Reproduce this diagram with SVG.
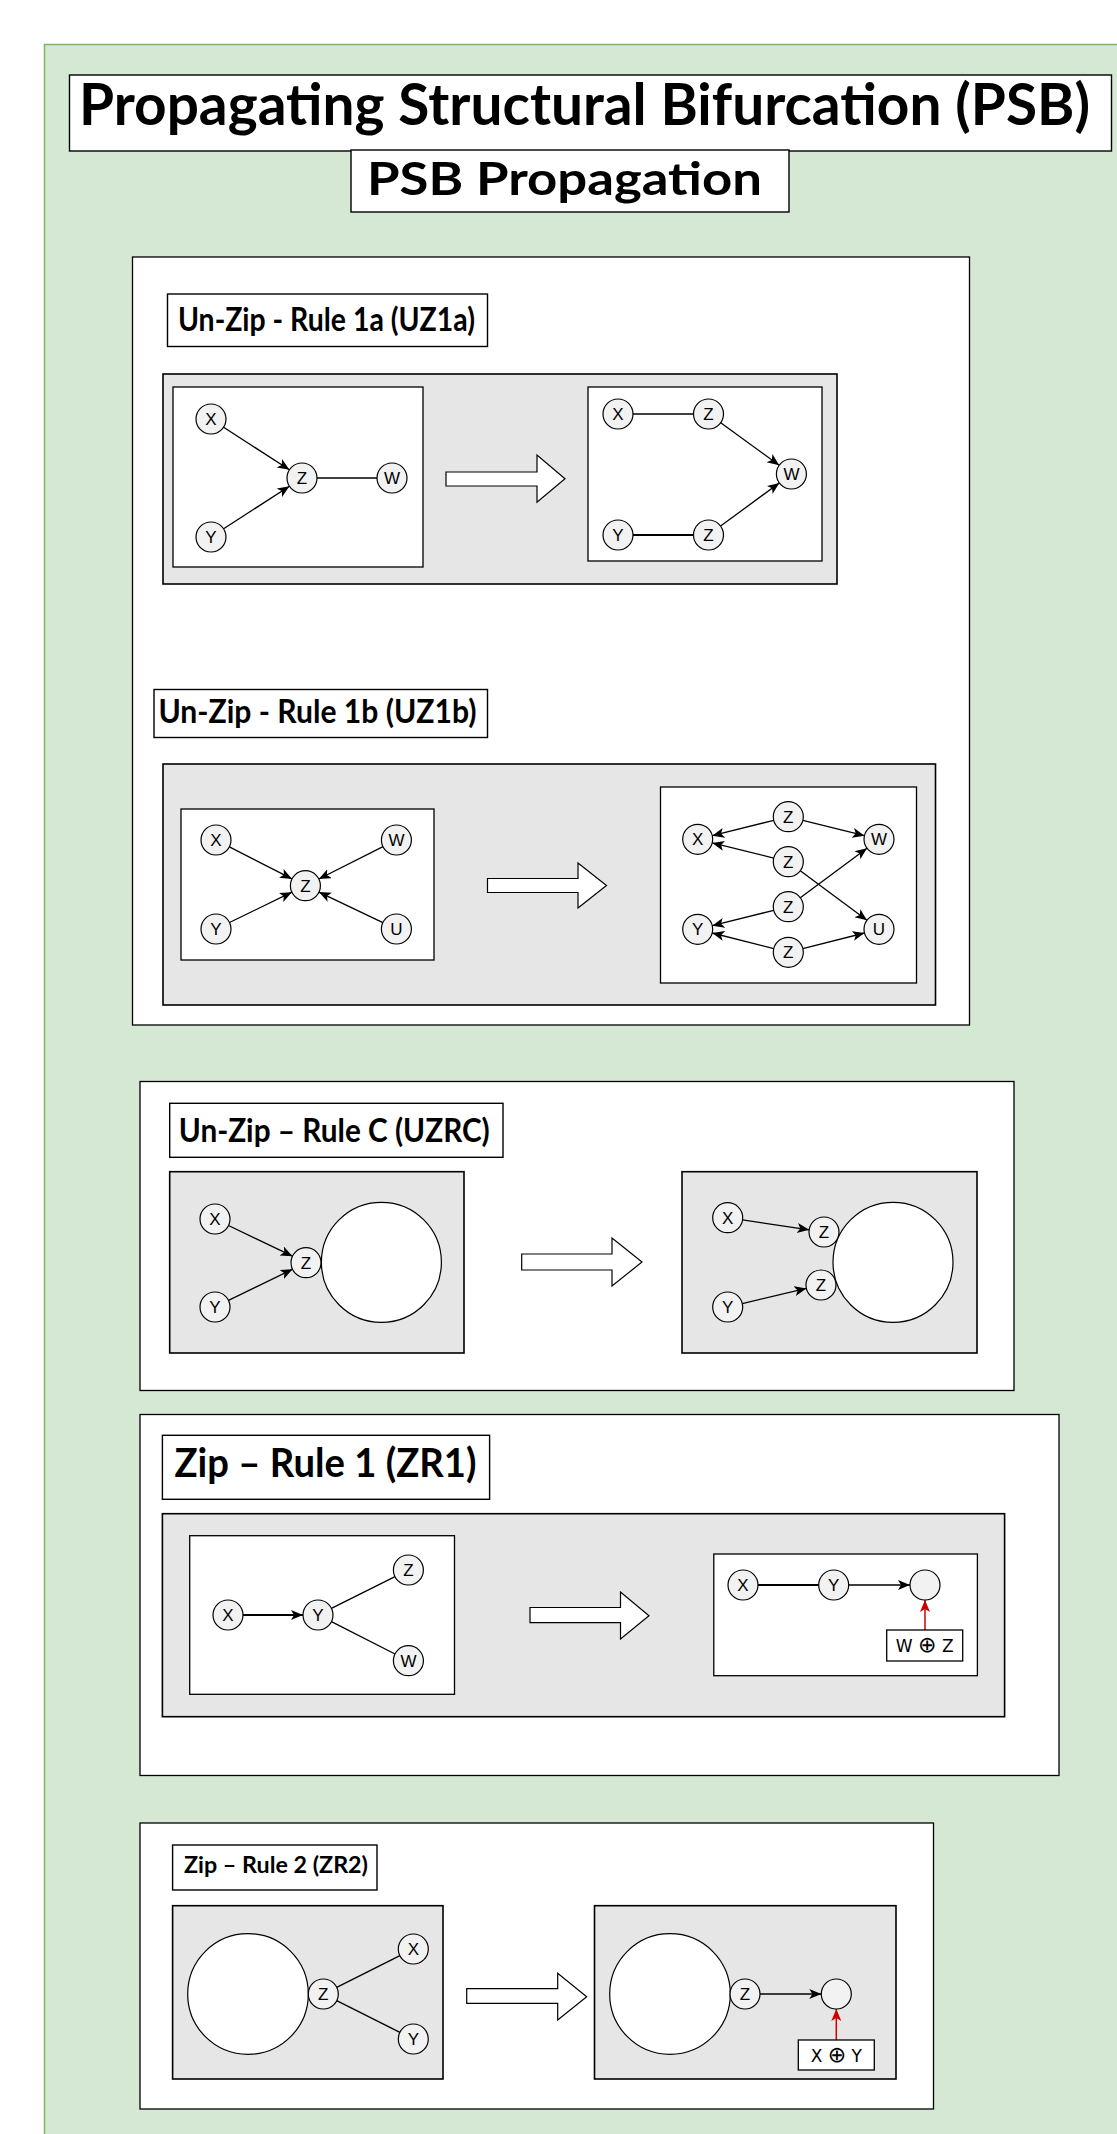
<svg xmlns="http://www.w3.org/2000/svg" width="1117" height="2134" viewBox="0 0 1117 2134">
<defs>
<style>
.bg{fill:#d5e8d4;stroke:#82b366;stroke-width:1.5}
.frame{fill:#fff;stroke:#000;stroke-width:1.3}
.panel{fill:#e6e6e6;stroke:#000;stroke-width:1.6}
.wbox{fill:#fff;stroke:#000;stroke-width:1.3}
.lbl{fill:#fff;stroke:#000;stroke-width:1.4}
.ttl{font-family:Lato,"Open Sans","Liberation Sans",sans-serif;font-weight:bold;fill:#000}
.node circle{fill:#f2f2f2;stroke:#000;stroke-width:1.2}
.node text{font-family:"Liberation Sans","DejaVu Sans",sans-serif;font-size:17px;text-anchor:middle;fill:#000}
.op text{font-family:"DejaVu Sans","Liberation Sans",sans-serif;font-size:17px;text-anchor:middle;fill:#000}
.op tspan{font-size:22px}
.big{fill:#fff;stroke:#000;stroke-width:1.2}
.blob{fill:#fff;stroke:#000;stroke-width:1.2}
.e{stroke:#000;stroke-width:1.3;fill:none}
.thick{stroke-width:2}
.a{marker-end:url(#ah)}
.r{stroke:#cc0000;stroke-width:1.5;fill:none;marker-end:url(#ahr)}
</style>
<marker id="ah" markerUnits="userSpaceOnUse" markerWidth="14" markerHeight="12" refX="12" refY="5" orient="auto"><path d="M0,0 L12,5 L0,10 L3,5 z" fill="#000"/></marker>
<marker id="ahr" markerUnits="userSpaceOnUse" markerWidth="14" markerHeight="12" refX="12" refY="5" orient="auto"><path d="M0,0 L12,5 L0,10 L3,5 z" fill="#cc0000"/></marker>
</defs>
<rect width="1117" height="2134" fill="#fff"/>
<rect class="bg" x="44.5" y="44.5" width="1100" height="2120"/>

<g id="title">
<rect class="lbl" x="69.5" y="75" width="1042" height="76"/>
<text class="ttl" x="79" y="125" font-size="58" textLength="1011" lengthAdjust="spacingAndGlyphs">Propagating Structural Bifurcation (PSB)</text>
</g>
<g id="subtitle">
<rect class="lbl" x="351" y="150" width="438" height="62"/>
<text class="ttl" x="367" y="195" font-size="46" textLength="395" lengthAdjust="spacingAndGlyphs">PSB Propagation</text>
</g>

<!-- Frames -->
<rect class="frame" x="132.5" y="257" width="837" height="768"/>
<rect class="frame" x="140" y="1081.5" width="874" height="309"/>
<rect class="frame" x="140" y="1414.5" width="919" height="361"/>
<rect class="frame" x="140" y="1823" width="793.5" height="286"/>

<!-- UZ1a -->
<g id="label-uz1a">
<rect class="lbl" x="167.5" y="294" width="320" height="52.5"/>
<text class="ttl" x="178" y="331" font-size="33" textLength="297" lengthAdjust="spacingAndGlyphs">Un-Zip - Rule 1a (UZ1a)</text>
</g>
<rect class="panel" x="163" y="374" width="674" height="210"/>
<rect class="wbox" x="173" y="387" width="250" height="180"/>
<rect class="wbox" x="588" y="387" width="234" height="174"/>
<polygon class="big" points="446,472 537,472 537,455 565,478.7 537,502.3 537,486 446,486"/>

<!-- UZ1b -->
<g id="label-uz1b">
<rect class="lbl" x="154" y="689.5" width="333.5" height="48"/>
<text class="ttl" x="158.5" y="722.7" font-size="33" textLength="318" lengthAdjust="spacingAndGlyphs">Un-Zip - Rule 1b (UZ1b)</text>
</g>
<rect class="panel" x="163" y="764" width="772.5" height="241"/>
<rect class="wbox" x="181" y="809" width="253" height="151"/>
<rect class="wbox" x="660.5" y="787" width="256" height="196"/>
<polygon class="big" points="487.5,878.5 578,878.5 578,863 606.5,885.5 578,908 578,892.5 487.5,892.5"/>

<!-- UZRC -->
<g id="label-uzrc">
<rect class="lbl" x="169.7" y="1103.3" width="333.3" height="54"/>
<text class="ttl" x="178.8" y="1141.7" font-size="32" textLength="311" lengthAdjust="spacingAndGlyphs">Un-Zip – Rule C (UZRC)</text>
</g>
<rect class="panel" x="169.7" y="1171.7" width="294.3" height="181.3"/>
<rect class="panel" x="682" y="1171.7" width="295" height="181.3"/>
<circle class="blob" cx="381.4" cy="1262.3" r="60"/>
<circle class="blob" cx="893" cy="1262.3" r="60"/>
<polygon class="big" points="521.7,1254 612,1254 612,1238 642,1262 612,1286 612,1270 521.7,1270"/>

<!-- ZR1 -->
<g id="label-zr1">
<rect class="lbl" x="162.4" y="1435.3" width="327.2" height="64"/>
<text class="ttl" x="174.5" y="1477.3" font-size="41" textLength="302" lengthAdjust="spacingAndGlyphs">Zip – Rule 1 (ZR1)</text>
</g>
<rect class="panel" x="162.4" y="1513.7" width="842.2" height="203"/>
<rect class="wbox" x="189.7" y="1535.7" width="264.8" height="158.6"/>
<rect class="wbox" x="713.8" y="1554" width="263.6" height="121.7"/>
<polygon class="big" points="530,1607.5 620.5,1607.5 620.5,1592 649,1615.7 620.5,1639 620.5,1622.7 530,1622.7"/>

<!-- ZR2 -->
<g id="label-zr2">
<rect class="lbl" x="172.6" y="1845" width="204.4" height="45"/>
<text class="ttl" x="184" y="1873" font-size="23" textLength="184" lengthAdjust="spacingAndGlyphs">Zip – Rule 2 (ZR2)</text>
</g>
<rect class="panel" x="172.6" y="1905.7" width="270.4" height="173.3"/>
<rect class="panel" x="594.5" y="1905.7" width="301.5" height="173.3"/>
<circle class="blob" cx="248" cy="1994" r="60.3"/>
<circle class="blob" cx="670" cy="1994" r="60.3"/>
<polygon class="big" points="466.7,1988.7 557.7,1988.7 557.7,1973.3 586.7,1996.7 557.7,2020 557.7,2003.3 466.7,2003.3"/>

<!-- Connectors -->
<g id="connectors">
<line class="e a" x1="223.6" y1="427.2" x2="289.4" y2="469.8"/>
<line class="e a" x1="223.6" y1="528.8" x2="289.4" y2="486.2"/>
<line class="e" x1="317" y1="478" x2="377" y2="478"/>
<line class="e" x1="633" y1="414" x2="693.5" y2="414"/>
<line class="e thick" x1="633" y1="535" x2="693.5" y2="535"/>
<line class="e a" x1="720.7" y1="422.8" x2="779.2" y2="465.2"/>
<line class="e a" x1="720.6" y1="526.1" x2="779.3" y2="482.9"/>

<line class="e a" x1="229.4" y1="846.8" x2="292" y2="878.9"/>
<line class="e a" x1="383" y1="846.7" x2="318.8" y2="879"/>
<line class="e a" x1="229.5" y1="922.5" x2="291.9" y2="892.2"/>
<line class="e a" x1="382.9" y1="922.6" x2="318.9" y2="892.1"/>

<line class="e a" x1="773.8" y1="820.3" x2="712.2" y2="835.7"/>
<line class="e a" x1="802.8" y1="820.3" x2="864.5" y2="835.7"/>
<line class="e a" x1="773.7" y1="858.1" x2="712.3" y2="842.9"/>
<line class="e a" x1="800.3" y1="870.7" x2="867" y2="920.3"/>
<line class="e a" x1="800.3" y1="897.8" x2="867" y2="848.2"/>
<line class="e a" x1="773.8" y1="910.3" x2="712.2" y2="925.7"/>
<line class="e a" x1="773.8" y1="948.6" x2="712.2" y2="933"/>
<line class="e a" x1="802.8" y1="948.6" x2="864.5" y2="933"/>

<line class="e a" x1="228.5" y1="1225.5" x2="292.5" y2="1256.2"/>
<line class="e a" x1="228.5" y1="1300.4" x2="292.5" y2="1269.3"/>
<line class="e a" x1="742.5" y1="1219.9" x2="809.2" y2="1229.8"/>
<line class="e a" x1="742.3" y1="1303.6" x2="806.4" y2="1288.4"/>

<line class="e thick a" x1="243" y1="1615" x2="303" y2="1615"/>
<line class="e" x1="331.4" y1="1608.3" x2="395" y2="1576.7"/>
<line class="e" x1="331.4" y1="1621.7" x2="395" y2="1654"/>
<line class="e thick" x1="758" y1="1585" x2="818.7" y2="1585"/>
<line class="e a" x1="848.7" y1="1585" x2="910" y2="1585"/>
<line class="r" x1="925" y1="1630" x2="925" y2="1600"/>

<line class="e" x1="336.7" y1="1987.3" x2="399.9" y2="1955.7"/>
<line class="e" x1="336.7" y1="2000.7" x2="399.9" y2="2032.3"/>
<line class="e a" x1="760" y1="1994" x2="821.3" y2="1994"/>
<line class="r" x1="836.3" y1="2040" x2="836.3" y2="2009"/>
</g>

<!-- Nodes -->
<g id="uz1a-l-x" class="node"><circle cx="211" cy="419" r="15"/><text x="211" y="425">X</text></g>
<g id="uz1a-l-y" class="node"><circle cx="211" cy="537" r="15"/><text x="211" y="543">Y</text></g>
<g id="uz1a-l-z" class="node"><circle cx="302" cy="478" r="15"/><text x="302" y="484">Z</text></g>
<g id="uz1a-l-w" class="node"><circle cx="392" cy="478" r="15"/><text x="392" y="484">W</text></g>
<g id="uz1a-r-x" class="node"><circle cx="618" cy="414" r="15"/><text x="618" y="420">X</text></g>
<g id="uz1a-r-z1" class="node"><circle cx="708.5" cy="414" r="15"/><text x="708.5" y="420">Z</text></g>
<g id="uz1a-r-w" class="node"><circle cx="791.4" cy="474" r="15"/><text x="791.4" y="480">W</text></g>
<g id="uz1a-r-y" class="node"><circle cx="618" cy="535" r="15"/><text x="618" y="541">Y</text></g>
<g id="uz1a-r-z2" class="node"><circle cx="708.5" cy="535" r="15"/><text x="708.5" y="541">Z</text></g>

<g id="uz1b-l-x" class="node"><circle cx="216" cy="840" r="15"/><text x="216" y="846">X</text></g>
<g id="uz1b-l-w" class="node"><circle cx="396.4" cy="840" r="15"/><text x="396.4" y="846">W</text></g>
<g id="uz1b-l-z" class="node"><circle cx="305.4" cy="885.7" r="15"/><text x="305.4" y="891.7">Z</text></g>
<g id="uz1b-l-y" class="node"><circle cx="216" cy="929" r="15"/><text x="216" y="935">Y</text></g>
<g id="uz1b-l-u" class="node"><circle cx="396.4" cy="929" r="15"/><text x="396.4" y="935">U</text></g>

<g id="uz1b-r-x" class="node"><circle cx="697.7" cy="839.3" r="15"/><text x="697.7" y="845.3">X</text></g>
<g id="uz1b-r-z1" class="node"><circle cx="788.3" cy="816.7" r="15"/><text x="788.3" y="822.7">Z</text></g>
<g id="uz1b-r-w" class="node"><circle cx="879" cy="839.3" r="15"/><text x="879" y="845.3">W</text></g>
<g id="uz1b-r-z2" class="node"><circle cx="788.3" cy="861.7" r="15"/><text x="788.3" y="867.7">Z</text></g>
<g id="uz1b-r-z3" class="node"><circle cx="788.3" cy="906.7" r="15"/><text x="788.3" y="912.7">Z</text></g>
<g id="uz1b-r-y" class="node"><circle cx="697.7" cy="929.3" r="15"/><text x="697.7" y="935.3">Y</text></g>
<g id="uz1b-r-u" class="node"><circle cx="879" cy="929.3" r="15"/><text x="879" y="935.3">U</text></g>
<g id="uz1b-r-z4" class="node"><circle cx="788.3" cy="952.3" r="15"/><text x="788.3" y="958.3">Z</text></g>

<g id="uzrc-l-x" class="node"><circle cx="215" cy="1219" r="15"/><text x="215" y="1225">X</text></g>
<g id="uzrc-l-y" class="node"><circle cx="215" cy="1307" r="15"/><text x="215" y="1313">Y</text></g>
<g id="uzrc-l-z" class="node"><circle cx="306" cy="1262.7" r="15"/><text x="306" y="1268.7">Z</text></g>
<g id="uzrc-r-x" class="node"><circle cx="727.7" cy="1217.7" r="15"/><text x="727.7" y="1223.7">X</text></g>
<g id="uzrc-r-y" class="node"><circle cx="727.7" cy="1307" r="15"/><text x="727.7" y="1313">Y</text></g>
<g id="uzrc-r-z1" class="node"><circle cx="824" cy="1232" r="15"/><text x="824" y="1238">Z</text></g>
<g id="uzrc-r-z2" class="node"><circle cx="821" cy="1285" r="15"/><text x="821" y="1291">Z</text></g>

<g id="zr1-l-x" class="node"><circle cx="228" cy="1615" r="15"/><text x="228" y="1621">X</text></g>
<g id="zr1-l-y" class="node"><circle cx="318" cy="1615" r="15"/><text x="318" y="1621">Y</text></g>
<g id="zr1-l-z" class="node"><circle cx="408.4" cy="1570" r="15"/><text x="408.4" y="1576">Z</text></g>
<g id="zr1-l-w" class="node"><circle cx="408.4" cy="1660.7" r="15"/><text x="408.4" y="1666.7">W</text></g>
<g id="zr1-r-x" class="node"><circle cx="743" cy="1585" r="15"/><text x="743" y="1591">X</text></g>
<g id="zr1-r-y" class="node"><circle cx="833.7" cy="1585" r="15"/><text x="833.7" y="1591">Y</text></g>
<g id="zr1-r-c" class="node"><circle cx="925" cy="1585" r="15"/></g>
<g id="zr1-op" class="op"><rect class="wbox" x="886.7" y="1630" width="76" height="31"/><text x="924.7" y="1652">W <tspan>⊕</tspan> Z</text></g>

<g id="zr2-l-z" class="node"><circle cx="323.3" cy="1994" r="15"/><text x="323.3" y="2000">Z</text></g>
<g id="zr2-l-x" class="node"><circle cx="413.3" cy="1949" r="15"/><text x="413.3" y="1955">X</text></g>
<g id="zr2-l-y" class="node"><circle cx="413.3" cy="2039" r="15"/><text x="413.3" y="2045">Y</text></g>
<g id="zr2-r-z" class="node"><circle cx="745" cy="1994" r="15"/><text x="745" y="2000">Z</text></g>
<g id="zr2-r-c" class="node"><circle cx="836.3" cy="1994" r="15"/></g>
<g id="zr2-op" class="op"><rect class="wbox" x="798.3" y="2040" width="76" height="30"/><text x="836.3" y="2061.5">X <tspan>⊕</tspan> Y</text></g>
</svg>
